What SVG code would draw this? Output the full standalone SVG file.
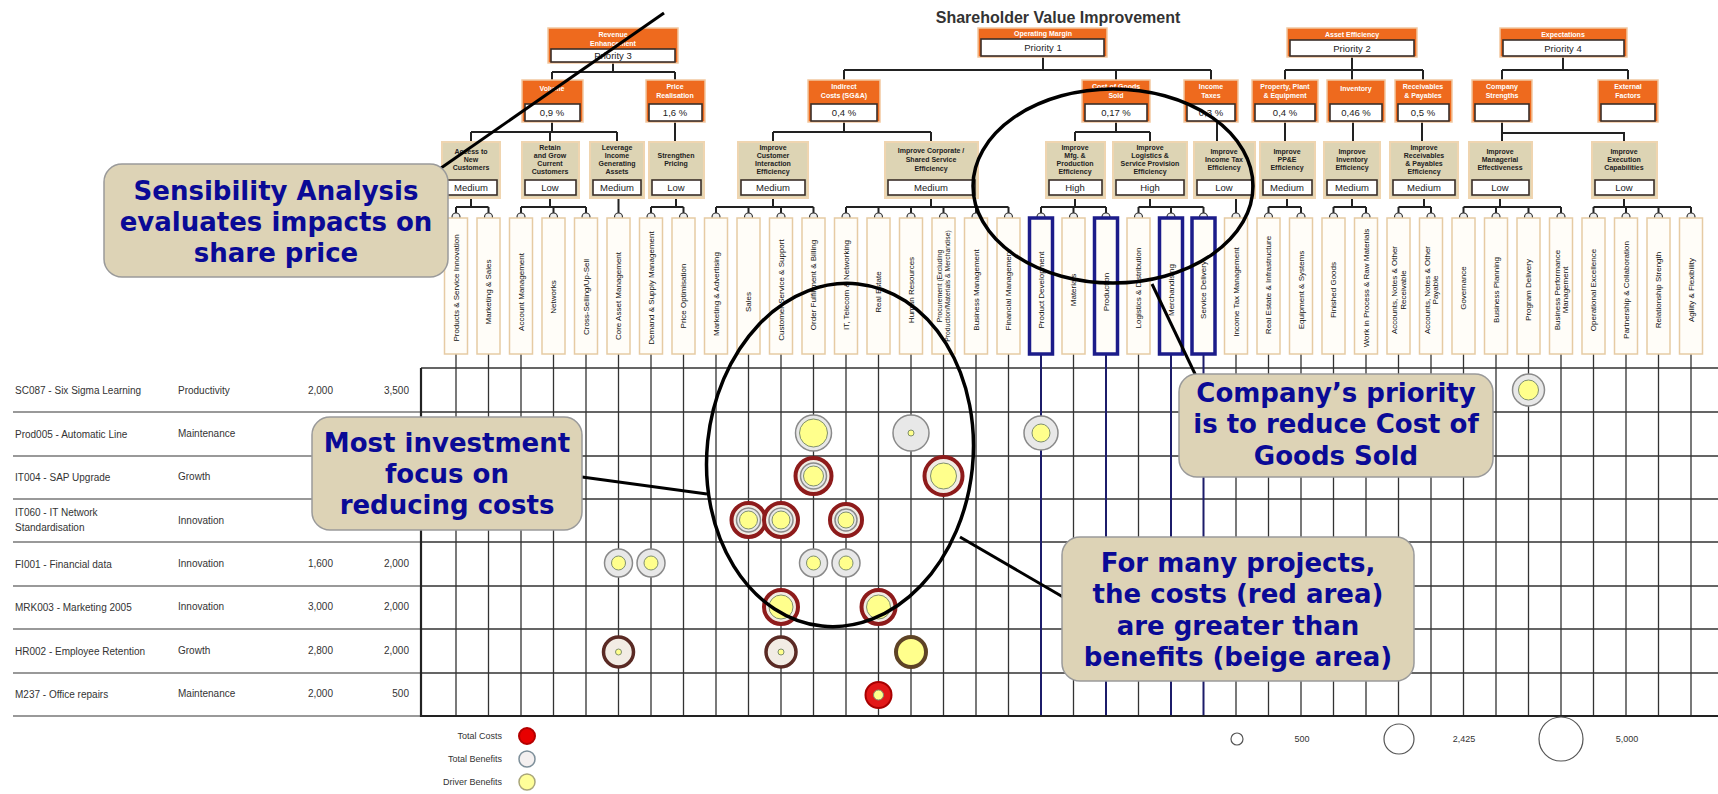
<svg xmlns="http://www.w3.org/2000/svg" width="1718" height="794" viewBox="0 0 1718 794">
<style>
text{font-family:"Liberation Sans",Arial,sans-serif}
.title{font-size:16px;font-weight:bold;fill:#333}
.org{fill:#ee6a1e;stroke:#f2c8a0;stroke-width:1.5}
.wb{fill:#fff;stroke:#3a2e28;stroke-width:1.6}
.ot{font-size:7px;font-weight:bold;fill:#fff;text-anchor:middle}
.pt{font-size:9.5px;fill:#222;text-anchor:middle}
.l3{fill:#ddd4b4;stroke:#efd5b0;stroke-width:2}
.l3t{font-size:7px;font-weight:bold;fill:#222;text-anchor:middle}
.l4{fill:#fffdf8;stroke:#e6cba4;stroke-width:1.5}
.l4b{fill:#fffdf8;stroke:#1c1c8a;stroke-width:3.5}
.l4t{font-size:8px;fill:#111;text-anchor:middle}
.tree{fill:none;stroke:#222;stroke-width:2}
.knob{fill:#eee;stroke:#333;stroke-width:1.2}
.grid{fill:none;stroke:#333;stroke-width:1.3}
.gridb{fill:none;stroke:#1c1c6a;stroke-width:2}
.tl{fill:none;stroke:#999;stroke-width:2}
.rt{font-size:10px;fill:#333}
.rn{font-size:10px;fill:#333;text-anchor:end}
.cost{fill:#f2ece4;stroke:#8e1b1b;stroke-width:4}
.costd{fill:#f2ece4;stroke:#5a2a24;stroke-width:3.5}
.ben{fill:#e8e8e8;stroke:#8a8a8a;stroke-width:1.5}
.drv{fill:#ffff8c;stroke:#7f8f6f;stroke-width:1}
.call{fill:#ddd3b6;stroke:#9a9a9a;stroke-width:1.5}
.ct{font-family:"DejaVu Sans",Verdana,sans-serif;font-size:26px;font-weight:bold;fill:#0a0a96;text-anchor:middle}
.ell{fill:none;stroke:#000;stroke-width:3.5}
.ptr{fill:none;stroke:#000;stroke-width:3}
.lg{font-size:9px;fill:#333}
</style>
<rect width="1718" height="794" fill="#fff"/>
<text class="title" x="1058" y="23" text-anchor="middle">Shareholder Value Improvement</text>

<g id="connectors">
<path class="tree" d="M613,63V72M552,72H675M552,72V80M675,72V80
M1043,57V70M844,70H1211M844,70V80M1116,70V80M1211,70V80
M1352,57V80M1285,70H1423M1285,70V80M1423,70V80
M1563,57V70M1502,70H1628M1502,70V80M1628,70V80
M552,122V132M471,132H617M471,132V142M550,132V142M617,132V142
M675,122V142
M844,122V132M773,132H931M773,132V142M931,132V142
M1116,122V132M1075,132H1150M1075,132V142M1150,132V142
M1217,122V142M1285,122V142M1353,122V142M1422,122V142
M1502,122V142M1502,133H1624V142
M471,198V207M456,207H488.5M456,207V213M488.5,207V213
M550,198V207M521,207H586M521,207V213M553.5,207V213M586,207V213
M618.5,198V213
M676,198V207M651,207H683.5M651,207V213M683.5,207V213
M773,198V207M716,207H813.5M716,207V213M748.5,207V213M781,207V213M813.5,207V213
M931,198V207M846,207H1008.5M846,207V213M878.5,207V213M911,207V213M943.5,207V213M976,207V213M1008.5,207V213
M1075,198V207M1041,207H1106M1041,207V213M1073.5,207V213M1106,207V213
M1150,198V207M1138.5,207H1203.5M1138.5,207V213M1171,207V213M1203.5,207V213
M1236,198V213
M1287,198V207M1268.5,207H1301M1268.5,207V213M1301,207V213
M1352,198V207M1333.5,207H1366M1333.5,207V213M1366,207V213
M1424,198V207M1398.5,207H1431M1398.5,207V213M1431,207V213
M1500,198V207M1463.5,207H1561M1463.5,207V213M1496,207V213M1528.5,207V213M1561,207V213
M1624,198V207M1593.5,207H1691M1593.5,207V213M1626,207V213M1658.5,207V213M1691,207V213"/>
<g>
<circle class="knob" cx="456" cy="217" r="4"/><circle class="knob" cx="488.5" cy="217" r="4"/><circle class="knob" cx="521" cy="217" r="4"/><circle class="knob" cx="553.5" cy="217" r="4"/><circle class="knob" cx="586" cy="217" r="4"/><circle class="knob" cx="618.5" cy="217" r="4"/><circle class="knob" cx="651" cy="217" r="4"/><circle class="knob" cx="683.5" cy="217" r="4"/><circle class="knob" cx="716" cy="217" r="4"/><circle class="knob" cx="748.5" cy="217" r="4"/><circle class="knob" cx="781" cy="217" r="4"/><circle class="knob" cx="813.5" cy="217" r="4"/><circle class="knob" cx="846" cy="217" r="4"/><circle class="knob" cx="878.5" cy="217" r="4"/><circle class="knob" cx="911" cy="217" r="4"/><circle class="knob" cx="943.5" cy="217" r="4"/><circle class="knob" cx="976" cy="217" r="4"/><circle class="knob" cx="1008.5" cy="217" r="4"/><circle class="knob" cx="1041" cy="217" r="4"/><circle class="knob" cx="1073.5" cy="217" r="4"/><circle class="knob" cx="1106" cy="217" r="4"/><circle class="knob" cx="1138.5" cy="217" r="4"/><circle class="knob" cx="1171" cy="217" r="4"/><circle class="knob" cx="1203.5" cy="217" r="4"/><circle class="knob" cx="1236" cy="217" r="4"/><circle class="knob" cx="1268.5" cy="217" r="4"/><circle class="knob" cx="1301" cy="217" r="4"/><circle class="knob" cx="1333.5" cy="217" r="4"/><circle class="knob" cx="1366" cy="217" r="4"/><circle class="knob" cx="1398.5" cy="217" r="4"/><circle class="knob" cx="1431" cy="217" r="4"/><circle class="knob" cx="1463.5" cy="217" r="4"/><circle class="knob" cx="1496" cy="217" r="4"/><circle class="knob" cx="1528.5" cy="217" r="4"/><circle class="knob" cx="1561" cy="217" r="4"/><circle class="knob" cx="1593.5" cy="217" r="4"/><circle class="knob" cx="1626" cy="217" r="4"/><circle class="knob" cx="1658.5" cy="217" r="4"/><circle class="knob" cx="1691" cy="217" r="4"/>
</g>
</g>

<!-- Level 1 -->
<g id="n-revenue"><rect class="org" x="548" y="28" width="130" height="35"/><rect class="wb" x="551" y="49" width="124" height="13"/><text class="ot" x="613" y="37">Revenue</text><text class="ot" x="613" y="46">Enhancement</text><text class="pt" x="613" y="59">Priority 3</text></g>
<g id="n-opmargin"><rect class="org" x="978" y="28" width="129" height="29"/><rect class="wb" x="981" y="39" width="123" height="17"/><text class="ot" x="1043" y="36">Operating Margin</text><text class="pt" x="1043" y="51">Priority 1</text></g>
<g id="n-asset"><rect class="org" x="1287" y="28" width="130" height="29"/><rect class="wb" x="1290" y="40" width="124" height="16"/><text class="ot" x="1352" y="37">Asset Efficiency</text><text class="pt" x="1352" y="52">Priority 2</text></g>
<g id="n-expect"><rect class="org" x="1500" y="28" width="127" height="29"/><rect class="wb" x="1503" y="40" width="121" height="16"/><text class="ot" x="1563" y="37">Expectations</text><text class="pt" x="1563" y="52">Priority 4</text></g>

<!-- Level 2 -->
<g id="n-volume"><rect class="org" x="522" y="80" width="61" height="42"/><rect class="wb" x="525" y="104" width="55" height="17"/><text class="ot" x="552" y="91">Volume</text><text class="pt" x="552" y="116">0,9 %</text></g>
<g id="n-price"><rect class="org" x="646" y="80" width="59" height="42"/><rect class="wb" x="649" y="104" width="53" height="17"/><text class="ot" x="675" y="89">Price</text><text class="ot" x="675" y="98">Realisation</text><text class="pt" x="675" y="116">1,6 %</text></g>
<g id="n-indirect"><rect class="org" x="808" y="80" width="72" height="42"/><rect class="wb" x="811" y="104" width="66" height="17"/><text class="ot" x="844" y="89">Indirect</text><text class="ot" x="844" y="98">Costs (SG&amp;A)</text><text class="pt" x="844" y="116">0,4 %</text></g>
<g id="n-cogs"><rect class="org" x="1082" y="80" width="68" height="42"/><rect class="wb" x="1085" y="104" width="62" height="17"/><text class="ot" x="1116" y="89">Cost of Goods</text><text class="ot" x="1116" y="98">Sold</text><text class="pt" x="1116" y="116">0,17 %</text></g>
<g id="n-tax"><rect class="org" x="1184" y="80" width="54" height="42"/><rect class="wb" x="1187" y="104" width="48" height="17"/><text class="ot" x="1211" y="89">Income</text><text class="ot" x="1211" y="98">Taxes</text><text class="pt" x="1211" y="116">0,3 %</text></g>
<g id="n-ppe"><rect class="org" x="1252" y="80" width="66" height="42"/><rect class="wb" x="1255" y="104" width="60" height="17"/><text class="ot" x="1285" y="89">Property, Plant</text><text class="ot" x="1285" y="98">&amp; Equipment</text><text class="pt" x="1285" y="116">0,4 %</text></g>
<g id="n-inventory"><rect class="org" x="1327" y="80" width="58" height="42"/><rect class="wb" x="1330" y="104" width="52" height="17"/><text class="ot" x="1356" y="91">Inventory</text><text class="pt" x="1356" y="116">0,46 %</text></g>
<g id="n-receivables"><rect class="org" x="1395" y="80" width="57" height="42"/><rect class="wb" x="1398" y="104" width="51" height="17"/><text class="ot" x="1423" y="89">Receivables</text><text class="ot" x="1423" y="98">&amp; Payables</text><text class="pt" x="1423" y="116">0,5 %</text></g>
<g id="n-strengths"><rect class="org" x="1472" y="80" width="60" height="42"/><rect class="wb" x="1475" y="104" width="54" height="17"/><text class="ot" x="1502" y="89">Company</text><text class="ot" x="1502" y="98">Strengths</text></g>
<g id="n-external"><rect class="org" x="1598" y="80" width="60" height="42"/><rect class="wb" x="1601" y="104" width="54" height="17"/><text class="ot" x="1628" y="89">External</text><text class="ot" x="1628" y="98">Factors</text></g>

<!-- Level 3 -->
<g id="n-access"><rect class="l3" x="442" y="142" width="58" height="56"/><rect class="wb" x="445" y="180" width="52" height="15"/><text class="l3t" x="471" y="154">Access to</text><text class="l3t" x="471" y="162">New</text><text class="l3t" x="471" y="170">Customers</text><text class="pt" x="471" y="191">Medium</text></g>
<g id="n-retain"><rect class="l3" x="522" y="142" width="57" height="56"/><rect class="wb" x="525" y="180" width="51" height="15"/><text class="l3t" x="550" y="150">Retain</text><text class="l3t" x="550" y="158">and Grow</text><text class="l3t" x="550" y="166">Current</text><text class="l3t" x="550" y="174">Customers</text><text class="pt" x="550" y="191">Low</text></g>
<g id="n-leverage"><rect class="l3" x="590" y="142" width="54" height="56"/><rect class="wb" x="593" y="180" width="48" height="15"/><text class="l3t" x="617" y="150">Leverage</text><text class="l3t" x="617" y="158">Income</text><text class="l3t" x="617" y="166">Generating</text><text class="l3t" x="617" y="174">Assets</text><text class="pt" x="617" y="191">Medium</text></g>
<g id="n-strengthen"><rect class="l3" x="649" y="142" width="55" height="56"/><rect class="wb" x="652" y="180" width="49" height="15"/><text class="l3t" x="676" y="158">Strengthen</text><text class="l3t" x="676" y="166">Pricing</text><text class="pt" x="676" y="191">Low</text></g>
<g id="n-custint"><rect class="l3" x="738" y="142" width="70" height="56"/><rect class="wb" x="741" y="180" width="64" height="15"/><text class="l3t" x="773" y="150">Improve</text><text class="l3t" x="773" y="158">Customer</text><text class="l3t" x="773" y="166">Interaction</text><text class="l3t" x="773" y="174">Efficiency</text><text class="pt" x="773" y="191">Medium</text></g>
<g id="n-corporate"><rect class="l3" x="885" y="142" width="93" height="56"/><rect class="wb" x="888" y="180" width="87" height="15"/><text class="l3t" x="931" y="153">Improve Corporate /</text><text class="l3t" x="931" y="162">Shared Service</text><text class="l3t" x="931" y="171">Efficiency</text><text class="pt" x="931" y="191">Medium</text></g>
<g id="n-mfg"><rect class="l3" x="1046" y="142" width="59" height="56"/><rect class="wb" x="1049" y="180" width="53" height="15"/><text class="l3t" x="1075" y="150">Improve</text><text class="l3t" x="1075" y="158">Mfg. &amp;</text><text class="l3t" x="1075" y="166">Production</text><text class="l3t" x="1075" y="174">Efficiency</text><text class="pt" x="1075" y="191">High</text></g>
<g id="n-logistics"><rect class="l3" x="1113" y="142" width="74" height="56"/><rect class="wb" x="1116" y="180" width="68" height="15"/><text class="l3t" x="1150" y="150">Improve</text><text class="l3t" x="1150" y="158">Logistics &amp;</text><text class="l3t" x="1150" y="166">Service Provision</text><text class="l3t" x="1150" y="174">Efficiency</text><text class="pt" x="1150" y="191">High</text></g>
<g id="n-taxeff"><rect class="l3" x="1194" y="142" width="61" height="56"/><rect class="wb" x="1197" y="180" width="55" height="15"/><text class="l3t" x="1224" y="154">Improve</text><text class="l3t" x="1224" y="162">Income Tax</text><text class="l3t" x="1224" y="170">Efficiency</text><text class="pt" x="1224" y="191">Low</text></g>
<g id="n-ppeeff"><rect class="l3" x="1260" y="142" width="55" height="56"/><rect class="wb" x="1263" y="180" width="49" height="15"/><text class="l3t" x="1287" y="154">Improve</text><text class="l3t" x="1287" y="162">PP&amp;E</text><text class="l3t" x="1287" y="170">Efficiency</text><text class="pt" x="1287" y="191">Medium</text></g>
<g id="n-inveff"><rect class="l3" x="1324" y="142" width="56" height="56"/><rect class="wb" x="1327" y="180" width="50" height="15"/><text class="l3t" x="1352" y="154">Improve</text><text class="l3t" x="1352" y="162">Inventory</text><text class="l3t" x="1352" y="170">Efficiency</text><text class="pt" x="1352" y="191">Medium</text></g>
<g id="n-receff"><rect class="l3" x="1390" y="142" width="68" height="56"/><rect class="wb" x="1393" y="180" width="62" height="15"/><text class="l3t" x="1424" y="150">Improve</text><text class="l3t" x="1424" y="158">Receivables</text><text class="l3t" x="1424" y="166">&amp; Payables</text><text class="l3t" x="1424" y="174">Efficiency</text><text class="pt" x="1424" y="191">Medium</text></g>
<g id="n-managerial"><rect class="l3" x="1469" y="142" width="63" height="56"/><rect class="wb" x="1472" y="180" width="57" height="15"/><text class="l3t" x="1500" y="154">Improve</text><text class="l3t" x="1500" y="162">Managerial</text><text class="l3t" x="1500" y="170">Effectiveness</text><text class="pt" x="1500" y="191">Low</text></g>
<g id="n-execution"><rect class="l3" x="1592" y="142" width="65" height="56"/><rect class="wb" x="1595" y="180" width="59" height="15"/><text class="l3t" x="1624" y="154">Improve</text><text class="l3t" x="1624" y="162">Execution</text><text class="l3t" x="1624" y="170">Capabilities</text><text class="pt" x="1624" y="191">Low</text></g>

<!-- Grid -->
<g id="grid">
<path class="tl" d="M13,412H421M13,456H421M13,499H421M13,542H421M13,586H421M13,629H421M13,673H421M13,716H421"/>
<path class="grid" d="M421,368H1718M421,412H1718M421,456H1718M421,499H1718M421,542H1718M421,586H1718M421,629H1718M421,673H1718"/>
<path class="grid" d="M456,354V716M488.5,354V716M521,354V716M553.5,354V716M586,354V716M618.5,354V716M651,354V716M683.5,354V716M716,354V716M748.5,354V716M781,354V716M813.5,354V716M846,354V716M878.5,354V716M911,354V716M943.5,354V716M976,354V716M1008.5,354V716M1073.5,354V716M1138.5,354V716M1236,354V716M1268.5,354V716M1301,354V716M1333.5,354V716M1366,354V716M1398.5,354V716M1431,354V716M1463.5,354V716M1496,354V716M1528.5,354V716M1561,354V716M1593.5,354V716M1626,354V716M1658.5,354V716M1691,354V716"/>
<path class="gridb" d="M1041,354V716M1106,354V716M1171,354V716M1203.5,354V716"/>
<path fill="none" stroke="#222" stroke-width="2.2" d="M421,368V716H1718"/>
</g>

<!-- Level 4 -->
<g id="c00"><rect class="l4" x="444.5" y="218" width="23" height="136"/><text class="l4t" transform="translate(458.9,288) rotate(-90)">Products &amp; Service Innovation</text></g>
<g id="c01"><rect class="l4" x="477" y="218" width="23" height="136"/><text class="l4t" transform="translate(491.4,292) rotate(-90)">Marketing &amp; Sales</text></g>
<g id="c02"><rect class="l4" x="509.5" y="218" width="23" height="136"/><text class="l4t" transform="translate(523.9,292) rotate(-90)">Account Management</text></g>
<g id="c03"><rect class="l4" x="542" y="218" width="23" height="136"/><text class="l4t" transform="translate(556.4,297) rotate(-90)">Networks</text></g>
<g id="c04"><rect class="l4" x="574.5" y="218" width="23" height="136"/><text class="l4t" transform="translate(588.9,297) rotate(-90)">Cross-Selling/Up-Sell</text></g>
<g id="c05"><rect class="l4" x="607" y="218" width="23" height="136"/><text class="l4t" transform="translate(621.4,296) rotate(-90)">Core Asset Management</text></g>
<g id="c06"><rect class="l4" x="639.5" y="218" width="23" height="136"/><text class="l4t" transform="translate(653.9,288) rotate(-90)">Demand &amp; Supply Management</text></g>
<g id="c07"><rect class="l4" x="672" y="218" width="23" height="136"/><text class="l4t" transform="translate(686.4,296) rotate(-90)">Price Optimisation</text></g>
<g id="c08"><rect class="l4" x="704.5" y="218" width="23" height="136"/><text class="l4t" transform="translate(718.9,294) rotate(-90)">Marketing &amp; Advertising</text></g>
<g id="c09"><rect class="l4" x="737" y="218" width="23" height="136"/><text class="l4t" transform="translate(751.4,302) rotate(-90)">Sales</text></g>
<g id="c10"><rect class="l4" x="769.5" y="218" width="23" height="136"/><text class="l4t" transform="translate(783.9,290) rotate(-90)">Customer Service &amp; Support</text></g>
<g id="c11"><rect class="l4" x="802" y="218" width="23" height="136"/><text class="l4t" transform="translate(816.4,285) rotate(-90)">Order Fulfillment &amp; Billing</text></g>
<g id="c12"><rect class="l4" x="834.5" y="218" width="23" height="136"/><text class="l4t" transform="translate(848.9,285) rotate(-90)">IT, Telecom &amp; Networking</text></g>
<g id="c13"><rect class="l4" x="867" y="218" width="23" height="136"/><text class="l4t" transform="translate(881.4,292) rotate(-90)">Real Estate</text></g>
<g id="c14"><rect class="l4" x="899.5" y="218" width="23" height="136"/><text class="l4t" transform="translate(913.9,290) rotate(-90)">Human Resources</text></g>
<g id="c15"><rect class="l4" x="932" y="218" width="23" height="136"/><text class="l4t" style="font-size:6.8px" transform="translate(943.5,286) rotate(-90)"><tspan x="0" y="-1.5">Procurement (Excluding</tspan><tspan x="0" y="6.5">Production/Materials &amp; Merchandise)</tspan></text></g>
<g id="c16"><rect class="l4" x="964.5" y="218" width="23" height="136"/><text class="l4t" transform="translate(978.9,290) rotate(-90)">Business Management</text></g>
<g id="c17"><rect class="l4" x="997" y="218" width="23" height="136"/><text class="l4t" transform="translate(1011.4,290) rotate(-90)">Financial Management</text></g>
<g id="c18"><rect class="l4b" x="1029.5" y="218" width="23" height="136"/><text class="l4t" transform="translate(1043.9,290) rotate(-90)">Product Development</text></g>
<g id="c19"><rect class="l4" x="1062" y="218" width="23" height="136"/><text class="l4t" transform="translate(1076.4,290) rotate(-90)">Materials</text></g>
<g id="c20"><rect class="l4b" x="1094.5" y="218" width="23" height="136"/><text class="l4t" transform="translate(1108.9,292) rotate(-90)">Production</text></g>
<g id="c21"><rect class="l4" x="1127" y="218" width="23" height="136"/><text class="l4t" transform="translate(1141.4,288) rotate(-90)">Logistics &amp; Distribution</text></g>
<g id="c22"><rect class="l4b" x="1159.5" y="218" width="23" height="136"/><text class="l4t" transform="translate(1173.9,290) rotate(-90)">Merchandising</text></g>
<g id="c23"><rect class="l4b" x="1192" y="218" width="23" height="136"/><text class="l4t" transform="translate(1206.4,290) rotate(-90)">Service Delivery</text></g>
<g id="c24"><rect class="l4" x="1224.5" y="218" width="23" height="136"/><text class="l4t" transform="translate(1238.9,292) rotate(-90)">Income Tax Management</text></g>
<g id="c25"><rect class="l4" x="1257" y="218" width="23" height="136"/><text class="l4t" transform="translate(1271.4,285) rotate(-90)">Real Estate &amp; Infrastructure</text></g>
<g id="c26"><rect class="l4" x="1289.5" y="218" width="23" height="136"/><text class="l4t" transform="translate(1303.9,290) rotate(-90)">Equipment &amp; Systems</text></g>
<g id="c27"><rect class="l4" x="1322" y="218" width="23" height="136"/><text class="l4t" transform="translate(1336.4,290) rotate(-90)">Finished Goods</text></g>
<g id="c28"><rect class="l4" x="1354.5" y="218" width="23" height="136"/><text class="l4t" transform="translate(1368.9,288) rotate(-90)">Work in Process &amp; Raw Materials</text></g>
<g id="c29"><rect class="l4" x="1387" y="218" width="23" height="136"/><text class="l4t" transform="translate(1398.5,290) rotate(-90)"><tspan x="0" y="-1.5">Accounts, Notes &amp; Other</tspan><tspan x="0" y="7">Receivable</tspan></text></g>
<g id="c30"><rect class="l4" x="1419.5" y="218" width="23" height="136"/><text class="l4t" transform="translate(1431,290) rotate(-90)"><tspan x="0" y="-1.5">Accounts, Notes &amp; Other</tspan><tspan x="0" y="7">Payable</tspan></text></g>
<g id="c31"><rect class="l4" x="1452" y="218" width="23" height="136"/><text class="l4t" transform="translate(1466.4,288) rotate(-90)">Governance</text></g>
<g id="c32"><rect class="l4" x="1484.5" y="218" width="23" height="136"/><text class="l4t" transform="translate(1498.9,290) rotate(-90)">Business Planning</text></g>
<g id="c33"><rect class="l4" x="1517" y="218" width="23" height="136"/><text class="l4t" transform="translate(1531.4,290) rotate(-90)">Program Delivery</text></g>
<g id="c34"><rect class="l4" x="1549.5" y="218" width="23" height="136"/><text class="l4t" transform="translate(1561,290) rotate(-90)"><tspan x="0" y="-1.5">Business Performance</tspan><tspan x="0" y="7">Management</tspan></text></g>
<g id="c35"><rect class="l4" x="1582" y="218" width="23" height="136"/><text class="l4t" transform="translate(1596.4,290) rotate(-90)">Operational Excellence</text></g>
<g id="c36"><rect class="l4" x="1614.5" y="218" width="23" height="136"/><text class="l4t" transform="translate(1628.9,290) rotate(-90)">Partnership &amp; Collaboration</text></g>
<g id="c37"><rect class="l4" x="1647" y="218" width="23" height="136"/><text class="l4t" transform="translate(1661.4,290) rotate(-90)">Relationship Strength</text></g>
<g id="c38"><rect class="l4" x="1679.5" y="218" width="23" height="136"/><text class="l4t" transform="translate(1693.9,290) rotate(-90)">Agility &amp; Flexibility</text></g>

<!-- Project rows -->
<g id="rows">
<text class="rt" x="15" y="394">SC087 - Six Sigma Learning</text><text class="rt" x="178" y="394">Productivity</text><text class="rn" x="333" y="394">2,000</text><text class="rn" x="409" y="394">3,500</text>
<text class="rt" x="15" y="438">Prod005 - Automatic Line</text><text class="rt" x="178" y="437">Maintenance</text>
<text class="rt" x="15" y="481">IT004 - SAP Upgrade</text><text class="rt" x="178" y="480">Growth</text>
<text class="rt" x="15" y="516">IT060 - IT Network</text><text class="rt" x="15" y="531">Standardisation</text><text class="rt" x="178" y="524">Innovation</text>
<text class="rt" x="15" y="568">FI001 - Financial data</text><text class="rt" x="178" y="567">Innovation</text><text class="rn" x="333" y="567">1,600</text><text class="rn" x="409" y="567">2,000</text>
<text class="rt" x="15" y="611">MRK003 - Marketing 2005</text><text class="rt" x="178" y="610">Innovation</text><text class="rn" x="333" y="610">3,000</text><text class="rn" x="409" y="610">2,000</text>
<text class="rt" x="15" y="655">HR002 - Employee Retention</text><text class="rt" x="178" y="654">Growth</text><text class="rn" x="333" y="654">2,800</text><text class="rn" x="409" y="654">2,000</text>
<text class="rt" x="15" y="698">M237 - Office repairs</text><text class="rt" x="178" y="697">Maintenance</text><text class="rn" x="333" y="697">2,000</text><text class="rn" x="409" y="697">500</text>
</g>

<!-- Bubbles -->
<g id="bubbles">
<circle class="ben" cx="1528.5" cy="390" r="16"/><circle class="drv" cx="1528.5" cy="390" r="10"/>
<circle class="ben" cx="813.5" cy="433" r="18"/><circle class="drv" cx="813.5" cy="433" r="14"/>
<circle class="ben" cx="911" cy="433" r="18"/><circle class="drv" cx="911" cy="433" r="3"/>
<circle class="ben" cx="1041" cy="433" r="17"/><circle class="drv" cx="1041" cy="433" r="9"/>
<circle class="cost" cx="813.5" cy="476" r="18"/><circle class="ben" cx="813.5" cy="476" r="13"/><circle class="drv" cx="813.5" cy="476" r="10"/>
<circle class="cost" cx="943.5" cy="476" r="19"/><circle class="drv" cx="943.5" cy="476" r="13"/>
<circle class="cost" cx="748.5" cy="520" r="17"/><circle class="ben" cx="748.5" cy="520" r="12"/><circle class="drv" cx="748.5" cy="520" r="9"/>
<circle class="cost" cx="781" cy="520" r="17"/><circle class="ben" cx="781" cy="520" r="12"/><circle class="drv" cx="781" cy="520" r="9"/>
<circle class="cost" cx="846" cy="520" r="16"/><circle class="ben" cx="846" cy="520" r="11"/><circle class="drv" cx="846" cy="520" r="8"/>
<circle class="ben" cx="618.5" cy="563" r="14"/><circle class="drv" cx="618.5" cy="563" r="7"/>
<circle class="ben" cx="651" cy="563" r="14"/><circle class="drv" cx="651" cy="563" r="7"/>
<circle class="ben" cx="813.5" cy="563" r="14"/><circle class="drv" cx="813.5" cy="563" r="7"/>
<circle class="ben" cx="846" cy="563" r="14"/><circle class="drv" cx="846" cy="563" r="7"/>
<circle class="cost" cx="781" cy="607" r="17"/><circle class="drv" cx="781" cy="607" r="12"/>
<circle class="cost" cx="878.5" cy="607" r="17"/><circle class="drv" cx="878.5" cy="607" r="12"/>
<circle class="costd" cx="618.5" cy="652" r="15"/><circle class="drv" cx="618.5" cy="652" r="3"/>
<circle class="costd" cx="781" cy="652" r="15"/><circle class="drv" cx="781" cy="652" r="3"/>
<circle fill="#ffff8c" stroke="#5e4326" stroke-width="4" cx="911" cy="652" r="15"/>
<circle fill="#e21818" stroke="#a80000" stroke-width="2" cx="878.5" cy="695" r="13"/><circle class="drv" cx="878.5" cy="695" r="5"/>
</g>

<!-- Legends -->
<g id="legend-left">
<text class="lg" x="502" y="739" text-anchor="end">Total Costs</text><circle cx="527" cy="736" r="8" fill="#e80000" stroke="#b40000" stroke-width="2"/>
<text class="lg" x="502" y="762" text-anchor="end">Total Benefits</text><circle cx="527" cy="759" r="8" fill="#f4f0f0" stroke="#7d8f9a" stroke-width="1.5"/>
<text class="lg" x="502" y="785" text-anchor="end">Driver Benefits</text><circle cx="527" cy="782" r="8" fill="#ffff99" stroke="#a9a67a" stroke-width="1.5"/>
</g>
<g id="legend-right">
<circle cx="1237" cy="739" r="6" fill="none" stroke="#555" stroke-width="1.2"/><text class="lg" x="1302" y="742" text-anchor="middle">500</text>
<circle cx="1399" cy="739" r="15" fill="none" stroke="#555" stroke-width="1.2"/><text class="lg" x="1464" y="742" text-anchor="middle">2,425</text>
<circle cx="1561" cy="739" r="22" fill="none" stroke="#555" stroke-width="1.2"/><text class="lg" x="1627" y="742" text-anchor="middle">5,000</text>
</g>

<!-- Annotations -->
<g id="annotations">
<ellipse class="ell" cx="840" cy="455" rx="133" ry="172" transform="rotate(6 840 455)"/>
<ellipse class="ell" cx="1113" cy="186" rx="140" ry="97"/>
<path class="ptr" d="M664,13L441,168"/>
<path class="ptr" d="M582,477L707,494"/>
<path class="ptr" d="M1152,284L1196,376"/>
<path class="ptr" d="M960,537L1063,597"/>
</g>
<g id="callout-sensibility"><rect class="call" x="104" y="164" width="344" height="113" rx="18"/><text class="ct" x="276" y="200">Sensibility Analysis</text><text class="ct" x="276" y="231">evaluates impacts on</text><text class="ct" x="276" y="262">share price</text></g>
<g id="callout-investment"><rect class="call" x="312" y="417" width="270" height="113" rx="18"/><text class="ct" x="447" y="452">Most investment</text><text class="ct" x="447" y="483">focus on</text><text class="ct" x="447" y="514">reducing costs</text></g>
<g id="callout-priority"><rect class="call" x="1179" y="374" width="314" height="103" rx="18"/><text class="ct" x="1336" y="402">Company’s priority</text><text class="ct" x="1336" y="433">is to reduce Cost of</text><text class="ct" x="1336" y="465">Goods Sold</text></g>
<g id="callout-costs"><rect class="call" x="1062" y="537" width="352" height="144" rx="18"/><text class="ct" x="1238" y="572">For many projects,</text><text class="ct" x="1238" y="603">the costs (red area)</text><text class="ct" x="1238" y="635">are greater than</text><text class="ct" x="1238" y="666">benefits (beige area)</text></g>
</svg>
